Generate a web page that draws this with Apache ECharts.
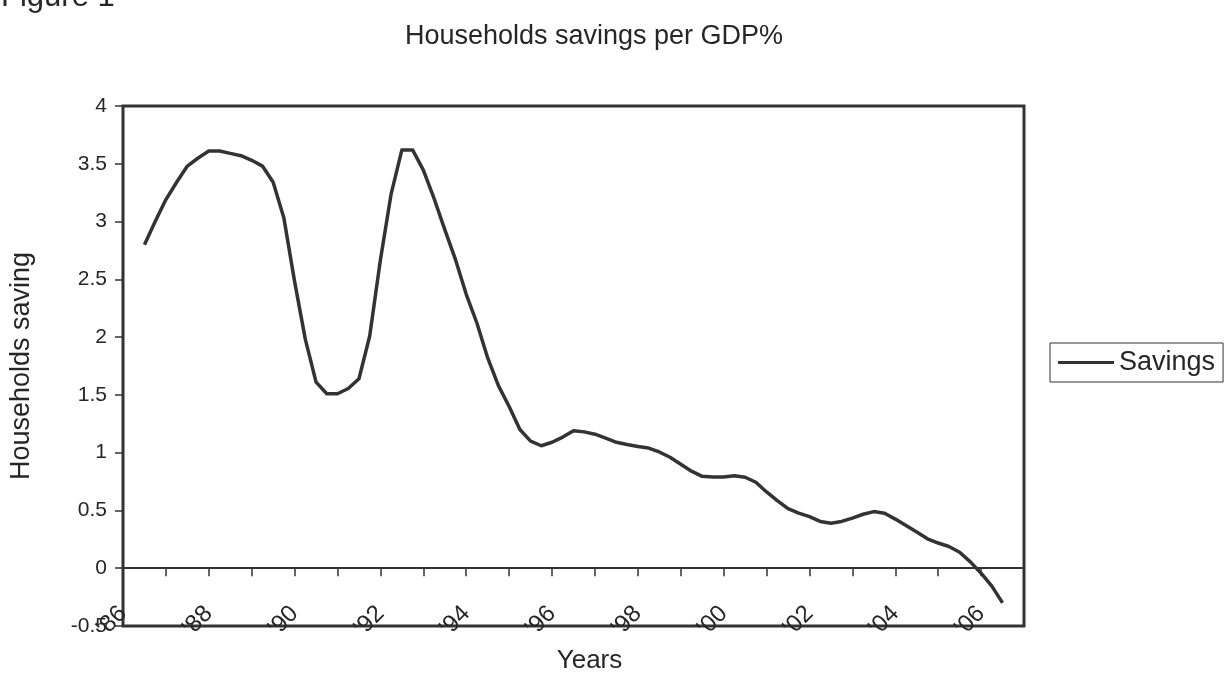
<!DOCTYPE html>
<html>
<head>
<meta charset="utf-8">
<script src="https://cdn.jsdelivr.net/npm/echarts@6/dist/echarts.min.js"></script>
<style>
  html, body { margin: 0; padding: 0; background: #fff; }
  #chart { width: 1232px; height: 686px; }
</style>
</head>
<body>
<div id="chart"></div>
<script>
// Household savings as a share of GDP, quarterly, 1986 Q3 – 2006 Q3
const years = [1986, 1987, 1988, 1989, 1990, 1991, 1992, 1993, 1994, 1995, 1996,
               1997, 1998, 1999, 2000, 2001, 2002, 2003, 2004, 2005, 2006, 2007];
const quarterNames = ['Q1', 'Q2', 'Q3', 'Q4'];
const firstQuarterIndex = 2;   // series starts in 1986 Q3
const savings = [
  2.80, 3.00, 3.19, 3.34, 3.48, 3.55, 3.61, 3.61, 3.59, 3.57,
  3.53, 3.48, 3.34, 3.03, 2.48, 1.98, 1.61, 1.51, 1.51, 1.555,
  1.64, 2.01, 2.67, 3.24, 3.62, 3.62, 3.445, 3.20, 2.93, 2.67,
  2.37, 2.12, 1.82, 1.58, 1.40, 1.20, 1.10, 1.06, 1.09, 1.135,
  1.19, 1.18, 1.16, 1.125, 1.09, 1.07, 1.054, 1.04, 1.006, 0.96,
  0.90, 0.84, 0.795, 0.79, 0.79, 0.80, 0.787, 0.744, 0.66, 0.585,
  0.515, 0.477, 0.447, 0.405, 0.39, 0.405, 0.433, 0.467, 0.49, 0.476,
  0.425, 0.369, 0.313, 0.255, 0.218, 0.188, 0.138, 0.055, -0.043, -0.155,
  -0.30
];
const yTicks = { min: -0.5, max: 4, step: 0.5 };

// quarter categories from 1986 Q1 up to 2007 Q1
const quarters = [];
years.forEach(function (y) {
  quarterNames.forEach(function (q) {
    if (y < years[years.length - 1] || q === 'Q1') quarters.push(y + ' ' + q);
  });
});
const seriesData = quarters.map(function (_, i) {
  const k = i - firstQuarterIndex;
  return (k >= 0 && k < savings.length) ? savings[k] : null;
});

const FONT = '"Liberation Sans", Arial, sans-serif';
const INK = '#262626';
const LINE = '#333333';

const chart = echarts.init(document.getElementById('chart'), null, { renderer: 'canvas' });
chart.setOption({
  animation: false,
  backgroundColor: '#ffffff',
  textStyle: { fontFamily: FONT, color: INK },
  title: {
    text: 'Households savings per GDP%',
    left: 589,
    top: 18,
    textAlign: 'center',
    textStyle: { fontFamily: FONT, fontSize: 27, fontWeight: 'normal', color: INK }
  },
  graphic: [{
    type: 'text',
    left: 1,
    top: -18,
    style: { text: 'Figure 1', font: '31px ' + FONT, fill: INK }
  }],
  legend: {
    left: 1050,
    top: 343,
    orient: 'vertical',
    padding: [6, 8, 6, 8],
    borderColor: LINE,
    borderWidth: 1,
    itemWidth: 56,
    itemHeight: 3,
    textStyle: { fontFamily: FONT, fontSize: 27, color: INK },
    data: [{ name: 'Savings', icon: 'rect' }]
  },
  grid: {
    left: 122, right: 208, top: 106, bottom: 60,
    show: true,
    borderColor: LINE,
    borderWidth: 3,
    backgroundColor: 'transparent'
  },
  xAxis: [{
    type: 'category',
    data: quarters,
    boundaryGap: false,
    position: 'bottom',
    axisLine: { show: false, onZero: false },
    axisTick: { show: false },
    axisLabel: {
      interval: 7,
      rotate: 45,
      margin: -16,
      fontFamily: FONT,
      fontSize: 24,
      color: INK,
      formatter: function (v) { return "'" + v.slice(2, 4); }
    },
    name: 'Years',
    nameLocation: 'middle',
    nameGap: 10,
    nameTextStyle: {
      fontFamily: FONT, fontSize: 26, color: INK, verticalAlign: 'top',
      padding: [0, 0, 0, 32]
    }
  }, {
    type: 'category',
    data: quarters,
    boundaryGap: false,
    position: 'top',
    axisLine: { show: true, onZero: true, lineStyle: { color: LINE, width: 2 } },
    axisTick: { show: true, inside: true, interval: 3, length: 8, lineStyle: { color: LINE, width: 1.5 } },
    axisLabel: { show: false },
    splitLine: { show: false }
  }],
  yAxis: {
    type: 'value',
    min: yTicks.min,
    max: yTicks.max,
    interval: yTicks.step,
    axisLine: { show: false },
    axisTick: { show: true, length: 8, lineStyle: { color: LINE, width: 1.5 } },
    splitLine: { show: false },
    axisLabel: { fontFamily: FONT, fontSize: 21, color: INK, margin: 16 },
    name: 'Households saving',
    nameLocation: 'middle',
    nameGap: 88,
    nameRotate: 90,
    nameTextStyle: { fontFamily: FONT, fontSize: 27, color: INK }
  },
  series: [{
    name: 'Savings',
    type: 'line',
    xAxisIndex: 0,
    data: seriesData,
    symbol: 'none',
    connectNulls: false,
    lineStyle: { color: LINE, width: 3.5, join: 'round' },
    itemStyle: { color: LINE }
  }]
});
</script>
</body>
</html>
